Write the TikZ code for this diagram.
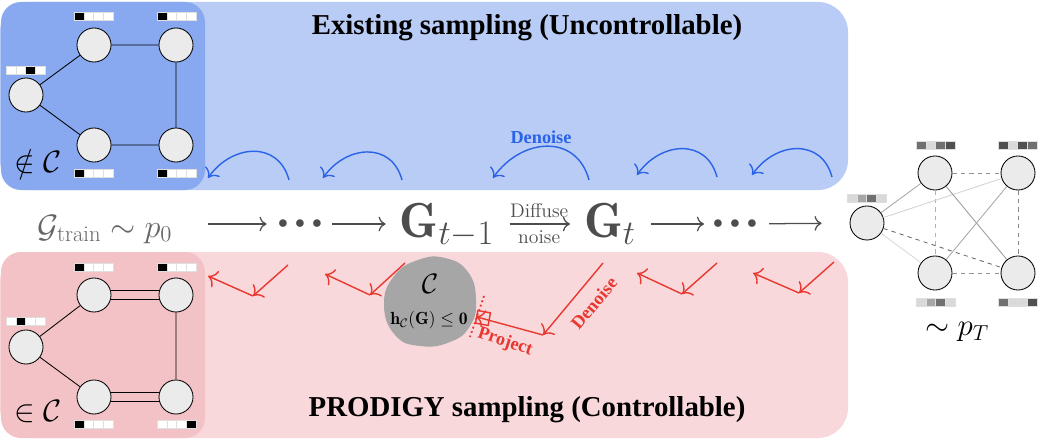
\documentclass[tikz,border=0pt]{standalone}
\usepackage{fix-cm}
\usepackage{amsmath}
\usepackage{amssymb}
\usepackage{fontspec}
\usetikzlibrary{arrows.meta,positioning}
\newfontfamily\timesfont{Liberation Serif}
\definecolor{topbg}{HTML}{B8CCF5}
\definecolor{topin}{HTML}{88A9F0}
\definecolor{botbg}{HTML}{F9D8DC}
\definecolor{botin}{HTML}{F3C2C7}
\definecolor{nodefill}{HTML}{EBEBEB}
\definecolor{midgray}{HTML}{4D4D4D}
\definecolor{bluearc}{HTML}{2A62E8}
\definecolor{redline}{HTML}{E8382F}
\definecolor{blobgray}{HTML}{A6A6A6}
\definecolor{ga}{HTML}{D9D9D9}
\definecolor{gb}{HTML}{A6A6A6}
\definecolor{gc}{HTML}{707070}
\definecolor{gd}{HTML}{505050}
\tikzset{node distance=2.0cm}

\newcommand{\featbar}[3]{%
  \foreach \c [count=\i from 0] in {#3}
    \filldraw[draw=gray!25, fill=\c, line width=0.2pt] ({#1+\i*9.8},{#2-4}) rectangle ({#1+\i*9.8+9.8},{#2+4});
}

\begin{document}
\begin{tikzpicture}[x=0.025cm, y=0.025cm,
  gnode/.style={circle, draw, fill=nodefill, minimum size=0.85cm, inner sep=0pt, line width=0.6pt},
  gedge/.style={line width=0.6pt},
  midtext/.style={text=midgray, inner sep=0pt, text height=0.8cm, text depth=0.15cm},
  dotstext/.style={text=midgray, inner sep=0pt, font=\fontsize{14}{16}\selectfont},
  midarrow/.style={-{To[length=5pt]}, midgray, line width=0.9pt},
  denoisearc/.style={-{To[length=6pt]}, bluearc, line width=1pt},
  redarrow/.style={-{To[length=6pt]}, redline, line width=1pt},
  title/.style={font=\timesfont\bfseries\fontsize{20.5}{24}\selectfont},
  labeltext/.style={font=\timesfont\bfseries\fontsize{13}{15}\selectfont},
  member/.style={font=\fontsize{22}{26}\selectfont},
  noiseedge/.style={line width=0.6pt}
]
\useasboundingbox (0,0) rectangle (1040,-440);

\fill[topbg, rounded corners=0.75cm] (0,-2) rectangle (848,-190);
\fill[topin, rounded corners=0.5cm] (1,-2) rectangle (205,-190);
\fill[botbg, rounded corners=0.75cm] (0,-252) rectangle (848,-438);
\fill[botin, rounded corners=0.5cm] (1,-252) rectangle (205,-438);

\node[title] (toptitle) at (527,-28) {Existing sampling (Uncontrollable)};
\node[title] (bottitle) at (527,-410) {PRODIGY sampling (Controllable)};

\node[gnode] (ta) at (26,-95) {};
\node[gnode] (tb) at (94,-45) {};
\node[gnode] (tc) at (176,-45) {};
\node[gnode] (td) at (94,-145) {};
\node[gnode] (te) at (176,-145) {};
\draw[gedge] (ta) -- (tb) (ta) -- (td) (tb) -- (tc) (tc) -- (te) (td) -- (te);
\featbar{74}{-16}{black,white,white,white}
\featbar{157}{-16}{black,white,white,white}
\featbar{6}{-70}{white,white,black,white}
\featbar{74}{-173}{black,white,white,white}
\featbar{157}{-173}{black,white,white,white}
\node[member] (notin) at (38,-162) {$\notin\mathcal{C}$};

\node[gnode] (ba) at (26,-347) {};
\node[gnode] (bb) at (94,-295) {};
\node[gnode] (bc) at (176,-295) {};
\node[gnode] (bd) at (94,-397) {};
\node[gnode] (be) at (176,-397) {};
\draw[gedge] (ba) -- (bb) (ba) -- (bd) (bc) -- (be);
\draw[gedge, transform canvas={yshift=0.11cm}] (bb) -- (bc);
\draw[gedge, transform canvas={yshift=-0.11cm}] (bb) -- (bc);
\draw[gedge, transform canvas={yshift=0.11cm}] (bd) -- (be);
\draw[gedge, transform canvas={yshift=-0.11cm}] (bd) -- (be);
\featbar{74}{-267}{black,white,white,white}
\featbar{157}{-267}{black,white,white,white}
\featbar{6}{-321}{white,black,white,white}
\featbar{74}{-424}{black,white,white,white}
\featbar{157}{-424}{white,white,white,black}
\node[member] (isin) at (38,-412) {$\in\mathcal{C}$};

\node[gnode] (na) at (867,-223) {};
\node[gnode] (nb) at (935,-173) {};
\node[gnode] (nc) at (1018,-173) {};
\node[gnode] (nd) at (935,-273) {};
\node[gnode] (ne) at (1018,-273) {};
\draw[noiseedge, gray!85, dashed] (nb) -- (nc);
\draw[noiseedge, gray!95, dashed] (nc) -- (ne);
\draw[noiseedge, gray!85, dashed] (nd) -- (ne);
\draw[noiseedge, gray!60, dashed] (nb) -- (nd);
\draw[noiseedge, gray!70] (na) -- (nb);
\draw[noiseedge, gray!35] (na) -- (nc);
\draw[noiseedge, gray!30] (na) -- (nd);
\draw[noiseedge, gray!80!black, dashed] (na) -- (ne);
\draw[noiseedge, gray!80] (nb) -- (ne);
\draw[noiseedge, gray!70] (nc) -- (nd);
\featbar{916}{-145}{gc,ga,gc,gd}
\featbar{998}{-145}{gd,ga,gd,gc}
\featbar{847}{-198}{ga,gb,gc,ga}
\featbar{916}{-302}{ga,gb,gc,ga}
\featbar{998}{-302}{gc,ga,ga,gd}
\node[member] (pT) at (957,-332) {$\sim p_T$};

\node[midtext, text=gray!80!black, font=\fontsize{23}{27}\selectfont] (gtrain) at (105,-224) {$\mathcal{G}_{\text{train}}\sim p_0$};
\node[dotstext] (dots1) at (300,-224) {$\bullet\hspace{2pt}\bullet\hspace{2pt}\bullet$};
\node[midtext, font=\fontsize{35}{40}\selectfont] (gtm1) at (447,-224) {$\mathbf{G}_{t-1}$};
\node[midtext, font=\fontsize{35}{40}\selectfont] (gt) at (610,-224) {$\mathbf{G}_t$};
\node[dotstext] (dots2) at (735,-224) {$\bullet\hspace{2pt}\bullet\hspace{2pt}\bullet$};

\draw[midarrow, shorten <=0.9cm, shorten >=0.28cm] (gtrain) -- (dots1);
\draw[midarrow, shorten <=0.25cm, shorten >=0.35cm] (dots1) -- (gtm1);
\draw[midarrow, shorten <=0.38cm, shorten >=0.35cm] (gtm1) -- node[above=1pt, text=midgray, font=\fontsize{14}{16}\selectfont] (diffuse) {Diffuse} node[below=1pt, text=midgray, font=\fontsize{14}{16}\selectfont] (noise) {noise} (gt);
\draw[midarrow, shorten <=0.38cm, shorten >=0.22cm] (gt) -- (dots2);
\draw[midarrow, shorten <=0.3cm, shorten >=0.7cm] (dots2) -- (na);

\foreach \n/\xr/\xl/\yr in {1/289/208/180, 2/402/323/180, 3/589/493/180, 4/717/637/177, 5/832/752/177} {
  \coordinate (arcr\n) at (\xr,-\yr);
  \coordinate (arcl\n) at (\xl,-\yr+2);
  \draw[denoisearc] (arcr\n) to[out=105, in=55, looseness=1.3] (arcl\n);
}
\node[labeltext, text=bluearc] (bluedenoise) at (541,-137) {Denoise};

\fill[blobgray] plot[smooth cycle, tension=0.8] coordinates {(384,-305) (394,-276) (418,-260) (445,-258) (468,-272) (476,-300) (470,-326) (450,-342) (420,-346) (395,-335)};
\node[font=\fontsize{20}{24}\selectfont] (cset) at (430,-284) {$\mathcal{C}$};
\node[font=\fontsize{12.5}{15}\selectfont] (hcon) at (429,-320) {$\mathbf{h}_{\mathcal{C}}(\mathbf{G})\leq\mathbf{0}$};

\foreach \n/\sx/\sy/\vx/\vy/\tx/\ty in {1/288/265/253/296/208/276, 2/405/263/370/295/325/274, 3/717/263/682/294/637/273, 4/834/262/799/293/753/273} {
  \coordinate (rs\n) at (\sx,-\sy);
  \coordinate (rv\n) at (\vx,-\vy);
  \coordinate (rt\n) at (\tx,-\ty);
  \draw[redarrow] (rs\n) -- (rv\n);
  \draw[redarrow] (rv\n) -- (rt\n);
}

\coordinate (rs0) at (603,-263);
\coordinate (rv0) at (543,-335);
\node[draw=redline, line width=1pt, minimum size=0.32cm, inner sep=0pt, rotate=-10] (projbox) at (483,-318) {};
\coordinate (tana) at (484,-296);
\coordinate (tanb) at (470,-337);
\draw[redline, line width=1.3pt, dotted] (tana) -- (tanb);
\draw[redarrow] (rs0) -- (rv0);
\draw[redarrow] (rv0) -- (projbox.west);
\node[labeltext, text=redline, rotate=50] (reddenoise) at (594,-303) {Denoise};
\node[labeltext, text=redline, rotate=-18] (projlabel) at (505,-342) {Project};
\end{tikzpicture}
\end{document}
